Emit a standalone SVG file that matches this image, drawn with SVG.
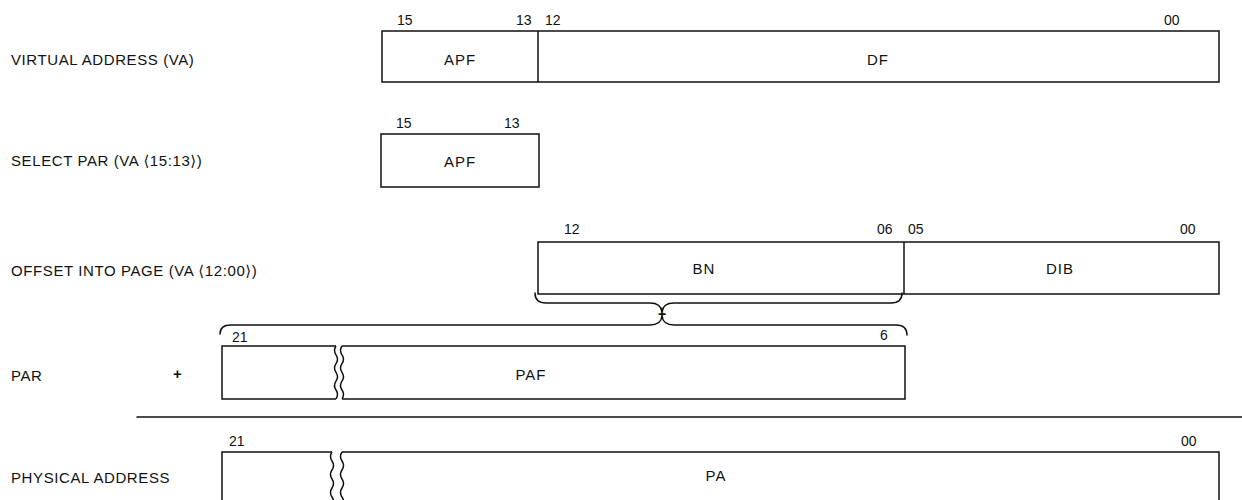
<svg xmlns="http://www.w3.org/2000/svg" width="1242" height="500" viewBox="0 0 1242 500">
<style>
.lbl{font-family:"Liberation Sans","DejaVu Sans",sans-serif;font-size:15px;letter-spacing:0.6px;fill:#111}
.num{font-family:"Liberation Sans","DejaVu Sans",sans-serif;font-size:14px;fill:#111}
.fld{font-family:"Liberation Sans","DejaVu Sans",sans-serif;font-size:15px;letter-spacing:1px;fill:#111;text-anchor:middle}
.box{fill:none;stroke:#111;stroke-width:1.5}
.ln{fill:none;stroke:#111;stroke-width:1.5;stroke-linecap:round;stroke-linejoin:round}
</style>
<rect width="1242" height="500" fill="#fff"/>
<g id="labels">
<text class="lbl" x="11" y="65">VIRTUAL ADDRESS (VA)</text>
<text class="lbl" x="11" y="166">SELECT PAR (VA ⟨15:13⟩)</text>
<text class="lbl" x="11" y="276">OFFSET INTO PAGE (VA ⟨12:00⟩)</text>
<text class="lbl" x="11" y="381">PAR</text>
<text class="lbl" x="11" y="483">PHYSICAL ADDRESS</text>
</g>
<g id="va">
<rect class="box" x="382" y="31" width="837" height="51"/>
<line class="box" x1="538" y1="31" x2="538" y2="82"/>
<text class="num" x="397" y="25">15</text>
<text class="num" x="516" y="25">13</text>
<text class="num" x="545" y="25">12</text>
<text class="num" x="1164" y="25">00</text>
<text class="fld" x="460" y="65">APF</text>
<text class="fld" x="878" y="65">DF</text>
</g>
<g id="selectpar">
<rect class="box" x="381" y="134" width="158" height="53"/>
<text class="num" x="396" y="128">15</text>
<text class="num" x="504" y="128">13</text>
<text class="fld" x="460" y="167">APF</text>
</g>
<g id="offset">
<rect class="box" x="538" y="242" width="681" height="52"/>
<line class="box" x1="904" y1="242" x2="904" y2="294"/>
<text class="num" x="564" y="234">12</text>
<text class="num" x="877" y="234">06</text>
<text class="num" x="908" y="234">05</text>
<text class="num" x="1180" y="234">00</text>
<text class="fld" x="704" y="274">BN</text>
<text class="fld" x="1060" y="274">DIB</text>
</g>
<g id="connectors">
<path class="ln" d="M535,293 Q535,303 546,303 L650,303 Q661,303 662,312 Q663,303 674,303 L891,303 Q902,303 902,293"/>
<path class="ln" d="M220,334 Q220,325 231,325 L650,325 Q661,325 662,316 Q663,325 674,325 L896,325 Q907,325 907,335"/>
<text class="num" x="662" y="319" text-anchor="middle" font-weight="bold">+</text>
<line class="ln" x1="137" y1="417" x2="1242" y2="417"/>
</g>
<g id="par">
<text class="lbl" x="173" y="379" font-weight="bold">+</text>
<path class="box" d="M336,346 L222,346 L222,399 L336,399"/>
<path class="box" d="M336,346 q-3,4.4 0,8.8 q3,4.4 0,8.8 q-3,4.4 0,8.8 q3,4.4 0,8.8 q-3,4.4 0,8.8 q3,4.4 0,8.8"/>
<path class="box" d="M342,346 L905,346 L905,399 L342,399"/>
<path class="box" d="M342,346 q-3,4.4 0,8.8 q3,4.4 0,8.8 q-3,4.4 0,8.8 q3,4.4 0,8.8 q-3,4.4 0,8.8 q3,4.4 0,8.8"/>
<text class="num" x="232" y="342">21</text>
<text class="num" x="880" y="340">6</text>
<text class="fld" x="531" y="380">PAF</text>
</g>
<g id="pa">
<path class="box" d="M332,452 L222,452 L222,506 L332,506"/>
<path class="box" d="M332,452 q-3,4.5 0,9 q3,4.5 0,9 q-3,4.5 0,9 q3,4.5 0,9 q-3,4.5 0,9 q3,4.5 0,9"/>
<path class="box" d="M342,452 L1219,452 L1219,506 L342,506"/>
<path class="box" d="M342,452 q-3,4.5 0,9 q3,4.5 0,9 q-3,4.5 0,9 q3,4.5 0,9 q-3,4.5 0,9 q3,4.5 0,9"/>
<text class="num" x="229" y="446">21</text>
<text class="num" x="1181" y="446">00</text>
<text class="fld" x="716" y="481">PA</text>
</g>
</svg>
